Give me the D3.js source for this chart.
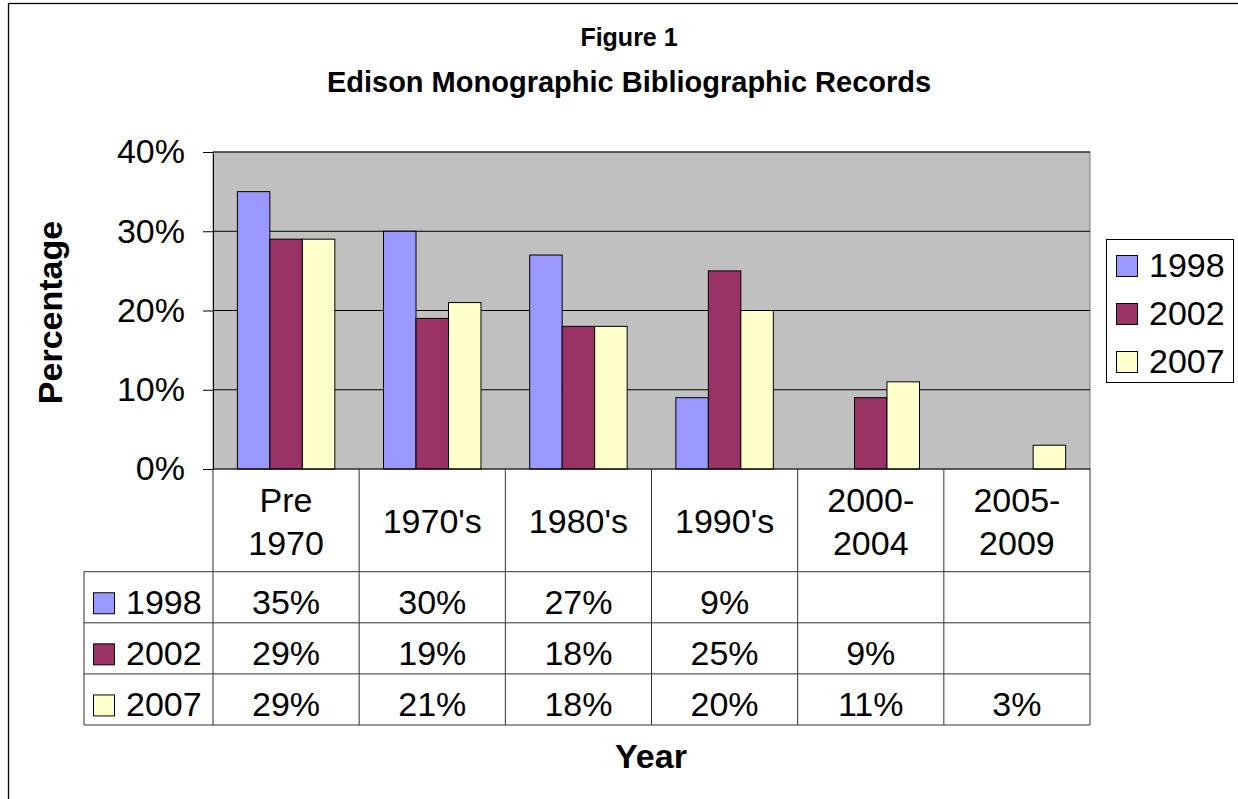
<!DOCTYPE html>
<html>
<head>
<meta charset="utf-8">
<script src="https://cdn.jsdelivr.net/npm/d3@7"></script>
<style>
  body { margin: 0; background: #fff; }
  text { font-family: "Liberation Sans", Arial, sans-serif; fill: #000; }
</style>
</head>
<body>
<svg id="chart" width="1238" height="799"></svg>
<script>
var categories = ["Pre 1970", "1970's", "1980's", "1990's", "2000-2004", "2005-2009"];
var seriesNames = ["1998", "2002", "2007"];
var values1998 = [0.35, 0.30, 0.27, 0.09, null, null];
var values2002 = [0.29, 0.19, 0.18, 0.25, 0.09, null];
var values2007 = [0.29, 0.21, 0.18, 0.20, 0.11, 0.03];
var yTicks = [0, 0.1, 0.2, 0.3, 0.4];
var colors = ["#9999ff", "#993366", "#ffffcc"];

function main() {
  var svg = d3.select("#chart");
  var seriesValues = [values1998, values2002, values2007];
  var plotLeft = 213, plotRight = 1090, plotTop = 152, plotBottom = 469;
  var tableLeft = 84;
  var headerBottom = 571.7;
  var rowHeight = 51.1;
  var fmt = d3.format(".0%");

  // outer chart border (runs off the image on right/bottom)
  svg.append("rect")
    .attr("x", 8.5).attr("y", 3.5)
    .attr("width", 1400).attr("height", 1000)
    .attr("fill", "none").attr("stroke", "#000").attr("stroke-width", 1.3);

  svg.append("text").attr("x", 629).attr("y", 46)
    .attr("text-anchor", "middle").attr("font-size", 25).attr("font-weight", "bold")
    .text("Figure 1");
  svg.append("text").attr("x", 629).attr("y", 92)
    .attr("text-anchor", "middle").attr("font-size", 29).attr("font-weight", "bold")
    .text("Edison Monographic Bibliographic Records");

  var x = d3.scaleBand().domain(categories).range([plotLeft, plotRight]);
  var bw = x.bandwidth();
  var x1 = d3.scaleBand().domain(seriesNames).range([bw / 6, bw * 5 / 6]);
  var y = d3.scaleLinear().domain([0, 0.4]).range([plotBottom, plotTop]);

  svg.append("rect")
    .attr("x", plotLeft).attr("y", plotTop)
    .attr("width", plotRight - plotLeft).attr("height", plotBottom - plotTop)
    .attr("fill", "#c0c0c0").attr("stroke", "#808080");

  svg.append("g").selectAll("line")
    .data(yTicks.filter(function (t) { return t > 0; }))
    .enter().append("line")
    .attr("x1", plotLeft).attr("x2", plotRight)
    .attr("y1", function (d) { return y(d); }).attr("y2", function (d) { return y(d); })
    .attr("stroke", "#000");

  var barData = [];
  seriesValues.forEach(function (vals, si) {
    vals.forEach(function (v, ci) {
      if (v !== null) barData.push({ cat: categories[ci], s: seriesNames[si], v: v, color: colors[si] });
    });
  });
  svg.append("g").selectAll("rect")
    .data(barData)
    .enter().append("rect")
    .attr("x", function (d) { return x(d.cat) + x1(d.s); })
    .attr("y", function (d) { return y(d.v); })
    .attr("width", x1.bandwidth())
    .attr("height", function (d) { return y(0) - y(d.v); })
    .attr("fill", function (d) { return d.color; })
    .attr("stroke", "#000");

  var yAxis = d3.axisLeft(y).tickValues(yTicks).tickFormat(fmt)
    .tickSize(10).tickSizeOuter(0).tickPadding(18);
  var yAxisNode = svg.append("g")
    .attr("transform", "translate(" + plotLeft + ",0)")
    .call(yAxis);
  yAxisNode.selectAll("text").attr("font-size", 34).attr("font-family", null).attr("fill", "#000");
  yAxisNode.selectAll("line, path").attr("stroke", "#000");

  svg.append("line")
    .attr("x1", plotLeft).attr("x2", plotRight)
    .attr("y1", plotBottom).attr("y2", plotBottom)
    .attr("stroke", "#000");

  svg.append("text")
    .attr("transform", "translate(62,312.5) rotate(-90)")
    .attr("text-anchor", "middle").attr("font-size", 34).attr("font-weight", "bold")
    .text("Percentage");

  // data table
  var tableBottom = headerBottom + rowHeight * 3;
  var grid = svg.append("g").attr("stroke", "#333");
  var bounds = categories.map(function (c) { return x(c); }).concat([plotRight]);
  grid.selectAll("line.v").data(bounds).enter().append("line")
    .attr("x1", function (d) { return d; }).attr("x2", function (d) { return d; })
    .attr("y1", plotBottom).attr("y2", tableBottom);
  grid.append("line").attr("x1", tableLeft).attr("x2", tableLeft)
    .attr("y1", headerBottom).attr("y2", tableBottom);
  grid.selectAll("line.h").data(d3.range(4)).enter().append("line")
    .attr("x1", tableLeft).attr("x2", plotRight)
    .attr("y1", function (i) { return headerBottom + i * rowHeight; })
    .attr("y2", function (i) { return headerBottom + i * rowHeight; });

  var headerMid = (plotBottom + headerBottom) / 2;
  categories.forEach(function (c) {
    var lines = c.split(/ |(?<=-)/);
    var t = svg.append("text").attr("text-anchor", "middle").attr("font-size", 34);
    if (lines.length === 1) {
      t.attr("x", x(c) + bw / 2).attr("y", headerMid + 12.5).text(c);
    } else {
      lines.forEach(function (l, i) {
        t.append("tspan").attr("x", x(c) + bw / 2)
          .attr("y", headerMid + (i === 0 ? -8.5 : 35)).text(l);
      });
    }
  });

  seriesNames.forEach(function (name, si) {
    var base = headerBottom + si * rowHeight + rowHeight / 2 + 17;
    svg.append("rect").attr("x", 93.5).attr("y", base - 21.5)
      .attr("width", 21).attr("height", 21)
      .attr("fill", colors[si]).attr("stroke", "#000");
    svg.append("text").attr("x", 126).attr("y", base).attr("font-size", 34).text(name);
    seriesValues[si].forEach(function (v, ci) {
      if (v === null) return;
      svg.append("text").attr("x", x(categories[ci]) + bw / 2).attr("y", base)
        .attr("text-anchor", "middle").attr("font-size", 34).text(fmt(v));
    });
  });

  svg.append("text").attr("x", 651).attr("y", 768)
    .attr("text-anchor", "middle").attr("font-size", 34).attr("font-weight", "bold")
    .text("Year");

  // legend
  var legend = svg.append("g");
  legend.append("rect").attr("x", 1106.5).attr("y", 239.5)
    .attr("width", 127).attr("height", 143)
    .attr("fill", "#fff").attr("stroke", "#000");
  seriesNames.forEach(function (name, si) {
    var base = 277 + si * 48;
    legend.append("rect").attr("x", 1116.5).attr("y", base - 21.5)
      .attr("width", 21).attr("height", 21)
      .attr("fill", colors[si]).attr("stroke", "#000");
    legend.append("text").attr("x", 1149).attr("y", base).attr("font-size", 34).text(name);
  });
}
main();
</script>
</body>
</html>
